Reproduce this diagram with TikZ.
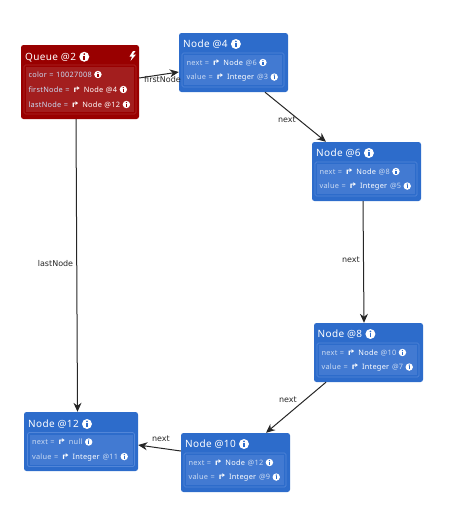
\documentclass[tikz,border=0pt]{standalone}
\usepackage{xcolor}
\usepackage{tikz}
\usepackage{fontspec}
\usetikzlibrary{arrows.meta}
\setmainfont[LetterSpace=3.5]{Noto Sans}
\newfontfamily\symfont{DejaVu Sans}
\newfontfamily\labelfont{DejaVu Sans}
\definecolor{queuered}{RGB}{153, 0, 0}
\definecolor{queueslot}{RGB}{163, 30, 30}
\definecolor{queueline}{RGB}{170, 40, 40}
\definecolor{nodeblue}{RGB}{45, 108, 203}
\definecolor{nodeslot}{RGB}{66, 122, 210}
\definecolor{nodeline}{RGB}{82, 134, 216}
\newcommand{\refarrow}{\textcolor{white}{\scalebox{1.5}[1]{\symfont\bfseries ↱}}}
\newcommand{\reftype}[1]{\textcolor{white}{\textbf{#1}}}
\newcommand{\infodot}[1][nodeblue]{\hspace{.32em}\tikz[baseline=-.38em,x=1em,y=1em]{\fill[white] (0,0) circle (.5); \fill[#1] (-.09,-.31) rectangle (.09,.09); \fill[#1] (0,.26) circle (.095);}}

\begin{document}
\begin{tikzpicture}[
  x=1pt, y=-1pt,
  objbox/.style={rounded corners=2.5pt, minimum height=59pt, inner sep=0pt, fill=nodeblue},
  frame/.style={draw=nodeline, rounded corners=1.5pt, line width=.7pt, inner sep=0pt, minimum height=34pt},
  slot/.style={fill=nodeslot, text=white!75!nodeblue, inner xsep=2.5pt, inner ysep=0pt, minimum height=15pt,
    text width=#1, align=left, font=\fontsize{7.4}{8}\selectfont},
  slot/.default=93pt,
  title/.style={anchor=west, text=white, inner sep=0pt, font=\fontsize{10}{12}\selectfont},
  conn/.style={-{Stealth[length=9pt,width=8pt]}, line width=1pt, color=black!85},
  linklabel/.style={font=\fontsize{8}{10}\selectfont\labelfont, text=black!85, inner sep=0pt}
]
\useasboundingbox (0,0) rectangle (465,525);

% Queue
\node[objbox, fill=queuered, minimum width=118pt, minimum height=74pt] (queue) at (80,82) {};
\node[title] (queuetitle) at (25,57) {Queue @2\infodot[queuered]};
\fill[white] (133,51) -- (129.5,56.5) -- (132,56.5) -- (130.5,61) -- (136,54.5) -- (133,54.5) -- (135.5,51) -- cycle;
\node[frame, draw=queueline, minimum width=112pt, minimum height=49pt] (queueframe) at (80,89.5) {};
\node[slot=103pt, fill=queueslot] (queuecolor) at (80,74.5) {color = 10027008\infodot[queuered]};
\node[slot=103pt, fill=queueslot] (queuefirst) at (80,89.5) {firstNode = \refarrow\ \reftype{Node @4}\infodot[queuered]};
\node[slot=103pt, fill=queueslot] (queuelast) at (80,104.5) {lastNode = \refarrow\ \reftype{Node @12}\infodot[queuered]};

% Node 4
\node[objbox, minimum width=109pt] (nodefour) at (233.5,62.5) {};
\node[title] (fourtitle) at (183,44) {Node @4\infodot};
\node[frame, minimum width=102pt] (fourframe) at (233,70) {};
\node[slot] (fournext) at (233,62.5) {next = \refarrow\ \reftype{Node} @6\infodot};
\node[slot] (fourvalue) at (233,77.5) {value = \refarrow\ \reftype{Integer} @3\infodot};

% Node 6
\node[objbox, minimum width=109pt] (nodesix) at (366.5,171.5) {};
\node[title] (sixtitle) at (316,153) {Node @6\infodot};
\node[frame, minimum width=102pt] (sixframe) at (366,179) {};
\node[slot] (sixnext) at (366,171.5) {next = \refarrow\ \reftype{Node} @8\infodot};
\node[slot] (sixvalue) at (366,186.5) {value = \refarrow\ \reftype{Integer} @5\infodot};

% Node 8
\node[objbox, minimum width=109pt] (nodeeight) at (368.5,352.5) {};
\node[title] (eighttitle) at (317.5,334) {Node @8\infodot};
\node[frame, minimum width=102pt] (eightframe) at (368,360) {};
\node[slot] (eightnext) at (368,352.5) {next = \refarrow\ \reftype{Node} @10\infodot};
\node[slot] (eightvalue) at (368,367.5) {value = \refarrow\ \reftype{Integer} @7\infodot};

% Node 10
\node[objbox, minimum width=109pt] (nodeten) at (235.5,462.5) {};
\node[title] (tentitle) at (185,444) {Node @10\infodot};
\node[frame, minimum width=102pt] (tenframe) at (235,470) {};
\node[slot] (tennext) at (235,462.5) {next = \refarrow\ \reftype{Node} @12\infodot};
\node[slot] (tenvalue) at (235,477.5) {value = \refarrow\ \reftype{Integer} @9\infodot};

% Node 12
\node[objbox, minimum width=114pt] (nodetwelve) at (81,441.5) {};
\node[title] (twelvetitle) at (28,424) {Node @12\infodot};
\node[frame, minimum width=107pt] (twelveframe) at (81,449.5) {};
\node[slot=98pt] (twelvenext) at (81,442) {next = \refarrow\ null\infodot};
\node[slot=98pt] (twelvevalue) at (81,457) {value = \refarrow\ \reftype{Integer} @11\infodot};

% Connections
\draw[conn] ([yshift=4pt]queue.east) -- ([yshift=-9.5pt]nodefour.west);
\draw[conn] ([xshift=-4pt]queue.south) -- ([xshift=-3.5pt]nodetwelve.north);
\draw[conn] ([xshift=31.5pt]nodefour.south) -- ([xshift=-40.5pt]nodesix.north);
\draw[conn] ([xshift=-3.5pt]nodesix.south) -- ([xshift=-4.5pt]nodeeight.north);
\draw[conn] ([xshift=-42.5pt]nodeeight.south) -- ([xshift=30.5pt]nodeten.north);
\draw[conn] ([yshift=11.5pt]nodeten.west) -- ([yshift=-3.5pt]nodetwelve.east);

% Labels
\node[linklabel] (firstlabel) at (162.5,80) {firstNode};
\node[linklabel] (lastlabel) at (55.5,263.5) {lastNode};
\node[linklabel] (nextfour) at (287,119.5) {next};
\node[linklabel] (nextsix) at (351,259.5) {next};
\node[linklabel] (nexteight) at (288,399.5) {next};
\node[linklabel] (nextten) at (161,438.5) {next};

\end{tikzpicture}
\end{document}
